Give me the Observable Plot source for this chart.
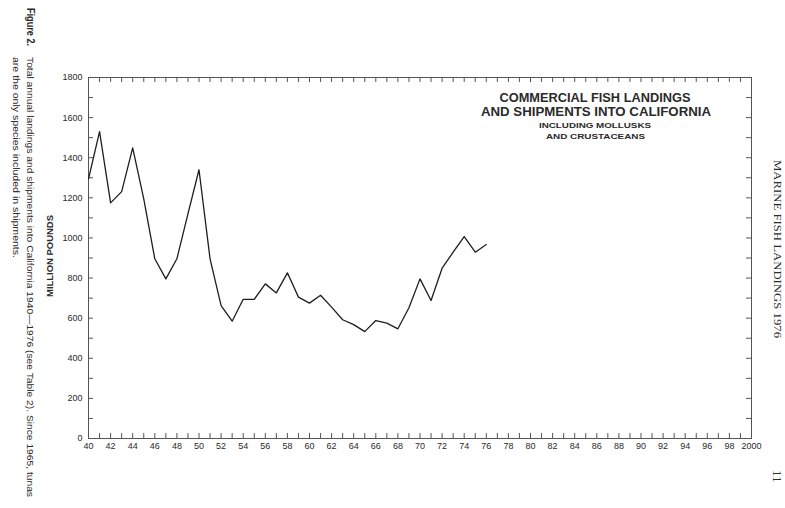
<!DOCTYPE html>
<html>
<head>
<meta charset="utf-8">
<script src="https://cdn.jsdelivr.net/npm/d3@7"></script>
<script src="https://cdn.jsdelivr.net/npm/@observablehq/plot@0.6"></script>
<style>
  html, body { margin: 0; padding: 0; background: #fff; }
  #chart svg { display: block; }
</style>
</head>
<body>
<div id="chart"></div>
<script>
// ---- data ----
const years = [1940,1941,1942,1943,1944,1945,1946,1947,1948,1949,
               1950,1951,1952,1953,1954,1955,1956,1957,1958,1959,
               1960,1961,1962,1963,1964,1965,1966,1967,1968,1969,
               1970,1971,1972,1973,1974,1975,1976];
const millionPounds = [1295,1530,1175,1231,1449,1195,896,796,896,1120,
                       1340,896,663,585,694,694,771,726,826,705,
                       675,714,655,592,568,533,588,575,547,652,
                       796,688,849,929,1007,929,967];
const xTickValues = [1940,1942,1944,1946,1948,1950,1952,1954,1956,1958,
                     1960,1962,1964,1966,1968,1970,1972,1974,1976,1978,
                     1980,1982,1984,1986,1988,1990,1992,1994,1996,1998,2000];
const xTickLabels = ["40","42","44","46","48","50","52","54","56","58",
                     "60","62","64","66","68","70","72","74","76","78",
                     "80","82","84","86","88","90","92","94","96","98","2000"];
const yTickValues = [0,200,400,600,800,1000,1200,1400,1600,1800];
const titleLines = ["COMMERCIAL FISH LANDINGS", "AND SHIPMENTS INTO CALIFORNIA"];
const subtitleLines = ["INCLUDING MOLLUSKS", "AND CRUSTACEANS"];
const yLabel = "MILLION POUNDS";
const figureLabel = "Figure 2.";
const captionLines = ["Total annual landings and shipments into California 1940\u20141976 (see Table 2). Since 1965, tunas",
                      "are the only species included in shipments."];
const pageHeader = "MARINE FISH LANDINGS 1976";
const pageNumber = "11";

const data = years.map((y, i) => ({year: y, value: millionPounds[i]}));

// ---- layout ----
const W = 785, H = 508;
const mL = 88, mR = 34, mT = 77, mB = 70;
const innerW = W - mL - mR, innerH = H - mT - mB;
const tick = 5;
const everyYear = d3.range(1940, 2001, 1);
const everyHundred = d3.range(0, 1801, 100);
const labelOf = new Map(xTickValues.map((v, i) => [v, xTickLabels[i]]));
const ink = "#2a2a2a";

const chart = Plot.plot({
  width: W, height: H,
  marginLeft: mL, marginRight: mR, marginTop: mT, marginBottom: mB,
  style: {fontFamily: "'Liberation Sans', Arial, sans-serif", fontSize: "9px", color: ink, background: "#fff"},
  x: {domain: [1940, 2000]},
  y: {domain: [0, 1800]},
  marks: [
    Plot.frame({stroke: "#555", strokeWidth: 1}),
    Plot.tickX(everyYear, {x: d => d, insetTop: innerH - tick, stroke: "#555"}),
    Plot.tickX(everyYear, {x: d => d, insetBottom: innerH - tick, stroke: "#555"}),
    Plot.tickY(everyHundred, {y: d => d, insetRight: innerW - tick, stroke: "#555"}),
    Plot.tickY(everyHundred, {y: d => d, insetLeft: innerW - tick, stroke: "#555"}),
    Plot.axisX({ticks: xTickValues, tickSize: 0, tickPadding: 4, tickFormat: d => labelOf.get(d), label: null}),
    Plot.axisY({ticks: yTickValues, tickSize: 0, tickPadding: 6, tickFormat: d => String(d), label: null}),
    Plot.line(data, {x: "year", y: "value", stroke: "#1e1e1e", strokeWidth: 1.3})
  ]
});
document.getElementById("chart").appendChild(chart);

// ---- annotations ----
const svg = d3.select(chart);
const sans = "'Liberation Sans', Arial, sans-serif";
const serif = "'Liberation Serif', 'Times New Roman', serif";

function addText(opts) {
  const t = svg.append("text")
    .attr("transform", opts.transform)
    .attr("text-anchor", opts.anchor || "start")
    .attr("font-family", opts.family || sans)
    .attr("font-size", opts.size)
    .attr("font-weight", opts.weight || "normal")
    .attr("fill", ink)
    .text(opts.text);
  if (opts.baseline) t.attr("dominant-baseline", opts.baseline);
  if (opts.length) t.attr("textLength", opts.length).attr("lengthAdjust", "spacingAndGlyphs");
  return t;
}

// title block
addText({transform: "translate(595,101.7)", anchor: "middle", size: 12.5, weight: "bold", text: titleLines[0], length: 191});
addText({transform: "translate(596,116)", anchor: "middle", size: 12.5, weight: "bold", text: titleLines[1], length: 230});
addText({transform: "translate(595,127.7)", anchor: "middle", size: 8, weight: "bold", text: subtitleLines[0], length: 112});
addText({transform: "translate(595.5,139.3)", anchor: "middle", size: 8, weight: "bold", text: subtitleLines[1], length: 99});

// y label
addText({transform: "translate(50,256) rotate(-90)", anchor: "middle", baseline: "central", size: 8.5, weight: "bold", text: yLabel, length: 82});

// figure caption (rotated)
addText({transform: "translate(30.5,8) rotate(90)", baseline: "central", size: 10, weight: "bold", text: figureLabel, length: 38});
addText({transform: "translate(30.5,57) rotate(90)", baseline: "central", size: 9.8, text: captionLines[0], length: 440});
addText({transform: "translate(16,57) rotate(90)", baseline: "central", size: 9.8, text: captionLines[1], length: 201});

// page header and number (rotated)
addText({transform: "translate(777.5,160) rotate(90)", baseline: "central", family: serif, size: 11, text: pageHeader, length: 178});
addText({transform: "translate(777.5,470) rotate(90)", baseline: "central", family: serif, size: 13, text: pageNumber});
</script>
</body>
</html>
